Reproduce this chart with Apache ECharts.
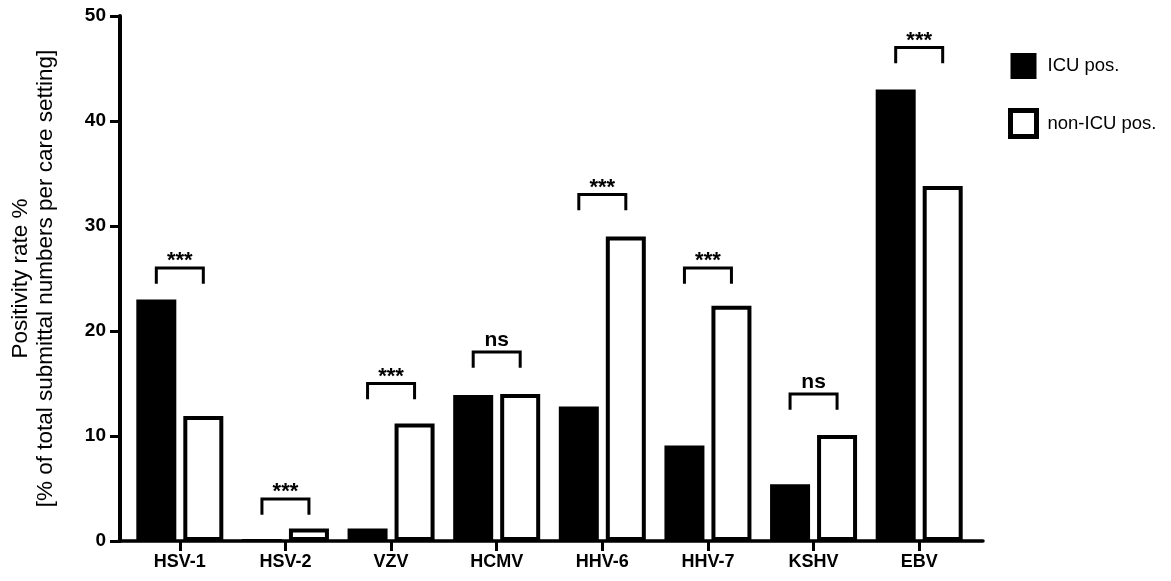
<!DOCTYPE html>
<html>
<head>
    <meta charset="utf-8">
    <title>Herpesvirus positivity ICU vs non-ICU</title>
    <script src="https://cdn.jsdelivr.net/npm/echarts@6/dist/echarts.min.js"></script>
</head>
<body style="margin:0">
    <div id="main" style="width: 1171px;height:581px;"></div>
    <script type="text/javascript">
        var viruses = ['HSV-1', 'HSV-2', 'VZV', 'HCMV', 'HHV-6', 'HHV-7', 'KSHV', 'EBV'];
        var icuPos = [23.0, 0.2, 1.2, 13.9, 12.8, 9.1, 5.4, 43.0];
        var nonIcuPos = [11.9, 1.2, 11.2, 14.0, 29.0, 22.4, 10.1, 33.8];
        // significance brackets: height of bracket top and the label
        var bracketTop = [26, 4, 15, 18, 33, 26, 14, 47];
        var sigLabels = ['***', '***', '***', 'ns', '***', '***', 'ns', '***'];
        var yTicks = [0, 10, 20, 30, 40, 50];

        var BAR_W = 40, BAR_GAP = 7, LEG = 1.5;
        var font = 'Liberation Sans, Arial, sans-serif';

        var myChart = echarts.init(document.getElementById('main'));

        var bracketData = viruses.map(function (v, i) {
            return [i, bracketTop[i]];
        });

        var option = {
            animation: false,
            textStyle: { fontFamily: font },
            legend: {
                orient: 'vertical',
                left: 1008,
                top: 53,
                padding: 0,
                itemWidth: 26,
                itemHeight: 26,
                itemGap: 29,
                icon: 'rect',
                textStyle: { fontSize: 18.5, color: '#000', fontFamily: font, padding: [0, 0, 0, 6] },
                data: [
                    { name: 'ICU pos.' },
                    { name: 'non-ICU pos.', itemStyle: { borderWidth: 5, borderColor: '#000', color: '#fff' } }
                ]
            },
            grid: [
                { left: 126, width: 846, top: 16, bottom: 40 },
                { left: 119, width: 864, top: 16, bottom: 40 }
            ],
            xAxis: [{
                type: 'category',
                data: viruses,
                axisLine: { show: false },
                axisTick: { show: true, alignWithLabel: true, length: 10, lineStyle: { color: '#000', width: 3 } },
                axisLabel: { color: '#000', fontWeight: 'bold', fontSize: 18, margin: 12 }
            }, {
                type: 'value',
                gridIndex: 1,
                min: 0, max: 1,
                axisLine: { show: true, lineStyle: { color: '#000', width: 3.5 } },
                axisTick: { show: false },
                axisLabel: { show: false },
                splitLine: { show: false }
            }],
            yAxis: [{
                type: 'value',
                min: yTicks[0],
                max: yTicks[yTicks.length - 1],
                interval: 10,
                offset: 7,
                name: 'Positivity rate %\n[% of total submittal numbers per care setting]',
                nameLocation: 'middle',
                nameGap: 62,
                nameTextStyle: { fontSize: 22.5, color: '#000', lineHeight: 25, fontFamily: font },
                axisLine: { show: true, lineStyle: { color: '#000', width: 4 } },
                axisTick: { show: true, length: 10, lineStyle: { color: '#000', width: 3 } },
                axisLabel: { color: '#000', fontWeight: 'bold', fontSize: 19, margin: 14 },
                splitLine: { show: false }
            }, {
                type: 'value',
                gridIndex: 1,
                show: false
            }],
            series: [{
                name: 'ICU pos.',
                type: 'bar',
                barWidth: BAR_W,
                barGap: (BAR_GAP / BAR_W * 100) + '%',
                itemStyle: { color: '#000' },
                data: icuPos
            }, {
                name: 'non-ICU pos.',
                type: 'bar',
                barWidth: BAR_W,
                barGap: (BAR_GAP / BAR_W * 100) + '%',
                itemStyle: { color: '#fff', borderColor: '#000', borderWidth: 4 },
                data: nonIcuPos
            }, {
                type: 'custom',
                silent: true,
                data: bracketData,
                encode: { x: 0, y: 1 },
                renderItem: function (params, api) {
                    var idx = api.value(0);
                    var top = api.coord([idx, api.value(1)]);
                    var bottom = api.coord([idx, api.value(1) - LEG]);
                    var half = (BAR_W + BAR_GAP) / 2;
                    var label = sigLabels[params.dataIndex];
                    var isNs = label === 'ns';
                    return {
                        type: 'group',
                        children: [{
                            type: 'polyline',
                            shape: {
                                points: [
                                    [top[0] - half, bottom[1]],
                                    [top[0] - half, top[1]],
                                    [top[0] + half, top[1]],
                                    [top[0] + half, bottom[1]]
                                ]
                            },
                            style: { stroke: '#000', lineWidth: 3, fill: null }
                        }, {
                            type: 'text',
                            x: top[0],
                            y: top[1] + (isNs ? -1 : 4),
                            style: {
                                text: label,
                                fill: '#000',
                                font: 'bold ' + (isNs ? 21 : 22) + 'px ' + font,
                                align: 'center',
                                verticalAlign: 'bottom'
                            }
                        }]
                    };
                }
            }]
        };

        myChart.setOption(option);
    </script>
</body>
</html>
